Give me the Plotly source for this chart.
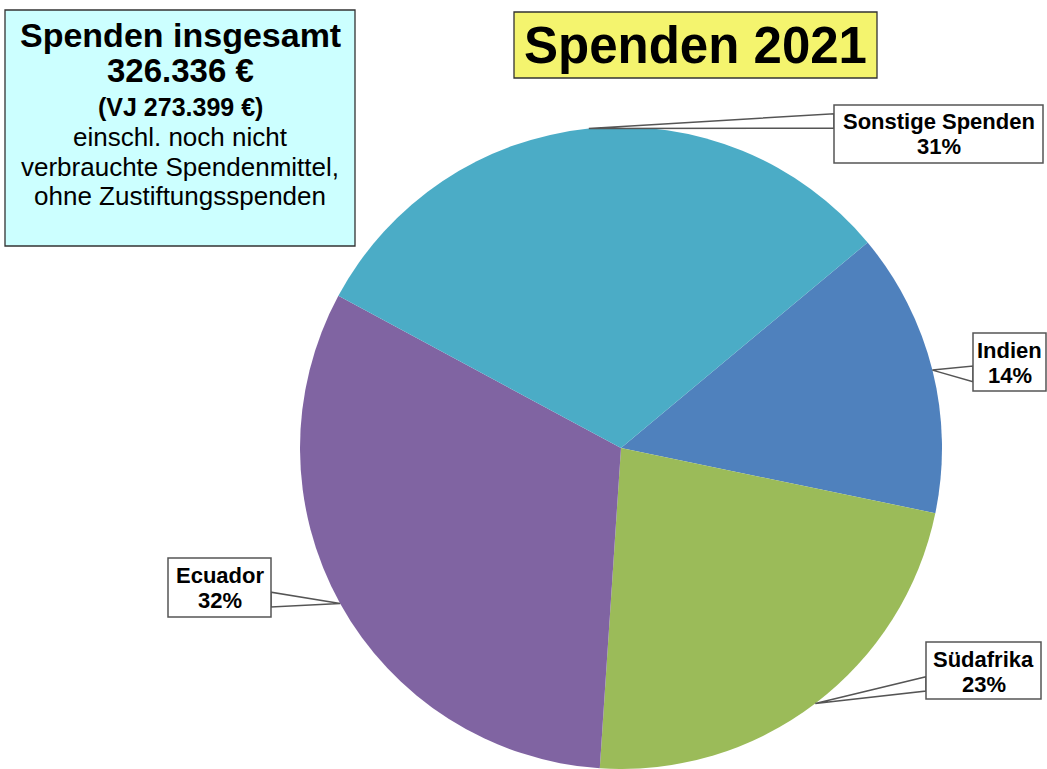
import math
import plotly.graph_objects as go

# ---- data ----
categories = ["Indien", "Südafrika", "Ecuador", "Sonstige Spenden"]
amounts = [46700, 74400, 103800, 101436]          # EUR, sum = 326.336 €
colors = ["#4F81BD", "#9BBB59", "#8064A2", "#4BACC6"]
title_text = "Spenden 2021"
info_lines = ["Spenden insgesamt", "326.336 €", "(VJ 273.399 €)",
              "einschl. noch nicht", "verbrauchte Spendenmittel,", "ohne Zustiftungsspenden"]

W, H = 1047, 769
CX, CY, R = 621, 448, 321
ROT = 50.2

def px(x):
    return x / W

def py(y):
    return 1 - y / H

FONT = "Arial, Liberation Sans, sans-serif"

fig = go.Figure(go.Pie(
    labels=categories, values=amounts, sort=False, direction="clockwise",
    rotation=ROT, marker=dict(colors=colors, line=dict(width=0)),
    textinfo="none", hoverinfo="label+percent",
    domain=dict(x=[px(CX - R), px(CX + R)], y=[max(0, py(CY + R)), py(CY - R)]),
    showlegend=False,
))

# callout layout: box (x0,y0,x1,y1) in px, side of pointer base, base fractions
callouts = {
    "Indien": dict(box=(973, 333, 1046, 391), side="left", f=(0.57, 0.84)),
    "Südafrika": dict(box=(926, 642, 1041, 699), side="left", f=(0.61, 0.86)),
    "Ecuador": dict(box=(168, 558, 271, 617), side="right", f=(0.58, 0.83)),
    "Sonstige Spenden": dict(box=(834, 105, 1043, 163), side="left", f=(0.15, 0.40)),
}

total = sum(amounts)
shapes = []
annotations = []
cum = 0.0
for name, val in zip(categories, amounts):
    mid = ROT + (cum + val / 2) / total * 360
    cum += val
    th = math.radians(mid)
    tx, ty = CX + R * math.sin(th), CY - R * math.cos(th)
    c = callouts[name]
    x0, y0, x1, y1 = c["box"]
    bx = x0 if c["side"] == "left" else x1
    b1 = y0 + (y1 - y0) * c["f"][0]
    b2 = y0 + (y1 - y0) * c["f"][1]
    shapes.append(dict(type="path", xref="paper", yref="paper", layer="above",
                       path=f"M {px(tx)},{py(ty)} L {px(bx)},{py(b1)} L {px(bx)},{py(b2)} Z",
                       fillcolor="white", line=dict(color="#555555", width=1.5)))
    shapes.append(dict(type="rect", xref="paper", yref="paper", layer="above",
                       x0=px(x0), x1=px(x1), y0=py(y1), y1=py(y0),
                       fillcolor="white", line=dict(color="#555555", width=1.5)))
    pct = round(val / total * 100)
    for k, t in enumerate([name, f"{pct}%"]):
        annotations.append(dict(xref="paper", yref="paper", x=px((x0 + x1) / 2),
                                y=py(y0 + 17 + 25 * k),
                                text=f"<b>{t}</b>", showarrow=False,
                                font=dict(family=FONT, size=22, color="black"),
                                xanchor="center", yanchor="middle"))

# title box
shapes.append(dict(type="rect", xref="paper", yref="paper", layer="above",
                   x0=px(514), x1=px(877), y0=py(78), y1=py(12),
                   fillcolor="#F4F46E", line=dict(color="#333333", width=1.3)))
annotations.append(dict(xref="paper", yref="paper", x=px(695.5), y=py(46),
                        text=f"<b>{title_text}</b>", showarrow=False,
                        font=dict(family=FONT, size=51, color="black"),
                        xanchor="center", yanchor="middle"))

# info box
shapes.append(dict(type="rect", xref="paper", yref="paper", layer="above",
                   x0=px(5), x1=px(355), y0=py(246), y1=py(10),
                   fillcolor="#CCFFFF", line=dict(color="#333333", width=1.3)))
line_y = [35, 70, 107, 137, 167, 196]
line_size = [34, 33, 25, 26, 26, 26]
line_bold = [True, True, True, False, False, False]
for t, yy, s, b in zip(info_lines, line_y, line_size, line_bold):
    annotations.append(dict(xref="paper", yref="paper", x=px(180), y=py(yy),
                            text=f"<b>{t}</b>" if b else t, showarrow=False,
                            font=dict(family=FONT, size=s, color="black"),
                            xanchor="center", yanchor="middle"))

fig.update_layout(width=W, height=H, margin=dict(l=0, r=0, t=0, b=0),
                  paper_bgcolor="white", plot_bgcolor="white",
                  shapes=shapes, annotations=annotations)
fig.write_html("out.html", config={"displayModeBar": False},
               post_script="document.body.style.margin='0px';document.body.style.overflow='hidden';")
